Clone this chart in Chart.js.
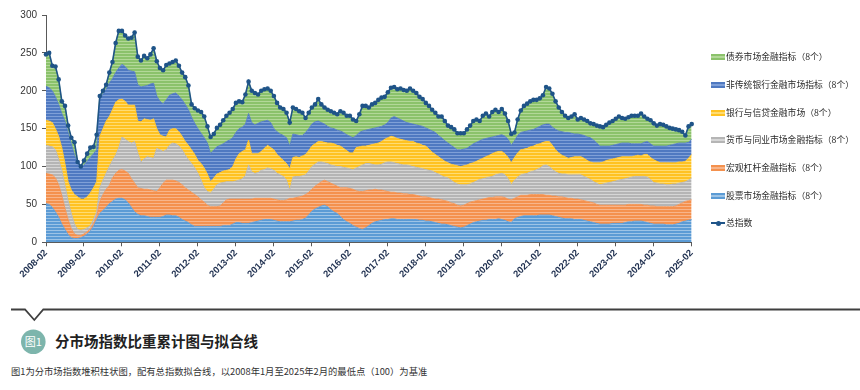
<!DOCTYPE html>
<html>
<head>
<meta charset="utf-8">
<script src="https://cdn.jsdelivr.net/npm/chart.js@4.4.1/dist/chart.umd.min.js"></script>
<style>
  html, body { margin: 0; padding: 0; background: #fff; }
  #wrap { position: relative; width: 860px; height: 390px; overflow: hidden; font-family: "Noto Sans CJK SC", "Noto Sans", sans-serif; }
  #chart { position: absolute; left: 0; top: 0; }
  .lg { position: absolute; left: 711px; height: 12px; width: 150px; }
  .lg .sw { position: absolute; left: 0; top: 3px; width: 14px; height: 6px; }
  .lg .ln { position: absolute; left: 0; top: 5px; width: 14px; height: 2px; background: #1f5488; }
  .lg .dot { position: absolute; left: 4.5px; top: 3.5px; width: 5px; height: 5px; border-radius: 50%; background: #1f5488; }
  .lg span { position: absolute; left: 15px; top: 0; font-size: 8.8px; line-height: 12px; color: #2a2a2a; white-space: nowrap; }
</style>
</head>
<body>
<div id="wrap">
  <canvas id="chart" width="860" height="300"></canvas>
  <div id="legend"></div>
  <svg width="860" height="90" style="position:absolute;left:0;top:300px">
    <polyline points="11,9.5 25,9.5 34.3,20 43.3,9.5 860,9.5" fill="none" stroke="#3f3f3f" stroke-width="1.8"/>
    <circle cx="33.3" cy="41.7" r="12.3" fill="#7db5ac"/>
    <text x="33.3" y="45.6" text-anchor="middle" font-size="11" fill="#fff">图1</text>
    <text x="55" y="47" font-size="14.5" font-weight="bold" fill="#222">分市场指数比重累计图与拟合线</text>
    <text x="11" y="75" font-size="9.3" fill="#333">图1为分市场指数堆积柱状图，配有总指数拟合线，以2008年1月至2025年2月的最低点（100）为基准</text>
  </svg>
</div>
<script>
// 月度数据：2008-02 至 2025-02
const tickLabels = ['2008-02','2009-02','2010-02','2011-02','2012-02','2013-02','2014-02','2015-02','2016-02',
  '2017-02','2018-02','2019-02','2020-02','2021-02','2022-02','2023-02','2024-02','2025-02'];

// 股票市场金融指标
const stock = [51,50,46,40,33,24,17,10,6,5,5,6,
  8,11,15,21,30,38,42,46,51,54,57,58,
  58,56,52,46,40,37,35,35,34,33,33,33,
  33,34,36,36,35,35,33,30,28,26,23,21,
  21,21,21,21,21,21,21,21,22,22,22,24,
  26,26,25,25,25,26,27,28,29,30,30,30,
  29,28,27,27,27,27,28,29,29,30,32,36,
  41,44,46,48,49,47,43,40,38,34,30,27,
  25,22,20,18,17,19,22,25,27,28,29,30,
  30,31,31,30,30,30,30,30,30,30,29,29,
  28,28,27,26,25,24,24,23,22,21,20,19,
  20,22,24,26,27,28,29,29,30,30,30,31,
  30,29,27,26,31,33,34,35,35,35,35,35,
  36,36,36,36,35,34,33,32,31,31,31,30,
  30,30,29,28,27,26,25,24,24,24,24,25,
  25,25,25,26,27,27,28,28,28,27,26,25,
  24,24,24,24,23,23,23,24,25,27,28,29,30];

// 宏观杠杆金融指标
const macro = [40,40,43,45,43,38,28,20,12,6,4,3,
  3,3,3,4,4,16,21,24,24,31,34,37,
  38,38,39,38,38,35,36,35,36,36,35,34,
  39,44,46,46,47,46,46,46,44,43,43,42,
  39,35,32,28,26,26,26,27,30,34,35,33,
  31,31,32,32,32,31,31,30,29,28,28,28,
  28,28,28,28,29,31,30,30,31,31,31,30,
  29,30,31,32,33,33,35,36,36,38,42,45,
  46,48,48,49,50,49,47,44,43,41,40,38,
  37,35,35,35,35,34,34,33,33,32,32,31,
  32,31,31,31,32,32,31,31,30,30,29,29,
  29,29,29,28,28,28,28,29,29,29,30,29,
  30,30,30,30,27,27,28,27,27,28,28,28,
  27,27,26,26,26,27,27,28,28,27,27,27,
  27,26,26,26,26,26,25,25,25,25,25,24,
  24,24,24,23,23,23,22,22,22,22,23,23,
  24,23,23,23,24,24,24,24,25,25,26,26,26];

// 货币与同业市场金融指标
const money = [37,37,37,37,34,33,30,25,20,13,8,7,
  6,5,4,5,6,18,19,21,25,23,24,30,
  43,42,42,47,55,46,35,40,43,43,43,57,
  50,42,40,46,49,49,48,46,43,40,38,35,
  31,26,19,18,18,23,29,30,27,24,23,23,
  24,25,27,31,45,36,33,34,37,38,40,39,
  38,35,34,32,26,11,28,28,27,27,26,28,
  30,29,29,26,23,24,24,25,26,28,27,26,
  26,26,30,33,35,36,35,34,32,33,34,37,
  39,40,39,39,38,38,38,38,37,37,37,37,
  36,36,36,35,33,32,31,31,30,28,28,28,
  27,25,24,25,26,27,27,27,27,28,29,30,
  31,30,27,20,24,26,27,28,29,30,31,33,
  35,38,40,38,35,32,31,30,31,31,31,32,
  32,33,32,31,30,28,28,27,28,29,30,31,
  32,33,34,35,35,36,37,37,37,38,37,35,
  31,31,30,30,29,29,30,29,28,27,26,27,29];

// 银行与信贷金融市场
const bank = [33,33,32,28,30,30,29,25,31,39,43,41,
  40,41,43,42,40,68,68,69,66,67,70,63,
  50,50,48,50,48,42,53,53,49,49,52,26,
  20,20,17,20,19,20,19,18,18,19,18,18,
  17,22,26,23,15,15,14,14,15,15,16,20,
  29,35,36,34,33,24,26,25,25,28,30,28,
  27,25,23,21,22,28,26,26,25,26,27,27,
  27,27,27,27,27,27,29,29,28,27,25,23,
  21,22,27,26,25,23,24,26,28,29,30,31,
  32,34,34,33,33,33,32,32,33,32,32,31,
  31,28,25,24,23,22,21,20,21,23,24,24,
  25,26,27,26,26,26,27,28,29,30,30,30,
  29,28,28,29,30,32,33,33,33,33,33,33,
  32,31,31,33,32,29,27,25,23,22,23,24,
  24,24,24,23,23,25,27,29,29,30,30,30,
  30,30,30,29,28,27,27,28,27,29,30,29,
  30,29,28,28,29,29,28,28,28,27,27,29,31];

// 非传统银行金融市场指标
const nonbank = [45,44,42,42,42,45,56,65,61,52,45,42,
  45,47,47,45,42,48,46,42,44,41,39,42,
  46,46,46,45,44,48,46,43,45,48,47,43,
  44,43,49,46,46,47,47,48,49,47,43,41,
  42,40,40,41,37,37,36,36,36,38,39,38,
  35,33,32,34,35,41,38,40,39,36,33,33,
  28,30,31,33,34,30,31,29,29,27,29,29,
  29,29,27,25,24,22,20,20,20,20,21,21,
  22,20,16,19,20,21,21,21,21,21,20,19,
  20,24,27,27,26,25,24,24,23,24,24,25,
  24,26,28,29,28,28,27,26,25,23,21,22,
  22,22,23,25,25,25,25,24,23,22,21,21,
  22,23,24,23,22,23,23,23,23,22,22,22,
  23,23,23,23,24,27,29,31,32,34,32,30,
  30,29,30,31,32,30,26,22,21,19,18,18,
  18,18,18,18,18,17,16,15,16,16,17,18,
  18,20,22,22,22,23,24,25,25,25,24,21,20];

// 债券市场金融指标
const bond = [42,46,33,40,33,16,20,9,8,17,1,1,
  6,10,13,9,20,5,4,6,14,22,39,49,
  44,41,42,44,52,37,35,40,36,39,46,46,
  44,44,46,42,42,43,40,36,36,32,17,20,
  24,28,28,22,22,21,25,27,31,34,36,38,
  39,36,33,39,42,42,42,38,41,42,42,42,
  43,38,35,35,33,31,35,34,32,30,19,21,
  22,23,29,24,22,22,22,21,21,26,26,25,
  27,24,19,24,33,32,29,32,33,36,38,37,
  40,40,39,38,41,41,42,46,44,42,38,36,
  33,31,28,26,25,28,26,23,24,24,22,22,
  21,25,27,30,30,26,31,33,28,33,35,31,
  34,30,24,15,11,21,29,34,36,38,39,37,
  37,39,49,47,44,37,31,26,22,19,22,26,
  19,22,21,21,19,21,23,26,25,28,31,32,
  34,36,33,32,34,37,37,37,40,34,30,31,
  30,27,29,28,26,23,21,19,17,15,10,21,20];

// 总指数
const totalIndex = [248,250,233,232,215,186,180,154,138,132,106,100,
  108,117,125,126,142,193,200,208,224,238,263,279,
  279,273,269,270,277,245,240,246,243,248,256,239,
  230,227,234,236,238,240,233,224,218,207,182,177,
  174,172,166,153,139,143,151,155,161,167,171,176,
  184,186,185,195,212,200,197,195,200,202,203,200,
  193,184,178,176,171,158,178,176,173,171,164,171,
  178,182,189,182,178,175,173,171,169,173,171,167,
  167,162,160,169,180,180,178,182,184,188,191,192,
  198,204,205,202,203,201,200,203,200,197,192,189,
  184,180,175,171,166,166,160,154,152,149,144,144,
  144,149,154,160,162,160,167,170,166,172,175,172,
  176,170,160,143,145,162,174,180,183,186,188,188,
  190,194,205,203,196,186,178,172,167,164,166,169,
  162,164,162,160,157,156,154,153,152,155,158,160,
  163,166,164,163,165,167,167,167,170,166,163,161,
  157,154,156,155,153,151,150,149,148,146,141,153,156];

// 月份类别
const months = [];
for (let i = 0; i < totalIndex.length; i++) {
  const m = 1 + i;
  months.push(`${2008 + Math.floor(m / 12)}-${String(m % 12 + 1).padStart(2, '0')}`);
}

const canvas = document.getElementById('chart');
const ctx = canvas.getContext('2d');

function stripes(base, light) {
  const c = document.createElement('canvas');
  c.width = 4; c.height = 3;
  const g = c.getContext('2d');
  g.fillStyle = base; g.fillRect(0, 0, 4, 3);
  g.fillStyle = light; g.fillRect(0, 2, 4, 1);
  return ctx.createPattern(c, 'repeat');
}

// 自下而上
const series = [
  { label: '股票市场金融指标（8个）', data: stock, base: '#5b9bd5', light: '#9cc3e6' },
  { label: '宏观杠杆金融指标（8个）', data: macro, base: '#f4914e', light: '#f8b58a' },
  { label: '货币与同业市场金融指标（8个）', data: money, base: '#b5b5b5', light: '#d6d6d6' },
  { label: '银行与信贷金融市场（8个）', data: bank, base: '#ffc222', light: '#ffdc72' },
  { label: '非传统银行金融市场指标（8个）', data: nonbank, base: '#4f79c1', light: '#7fa0d8' },
  { label: '债券市场金融指标（8个）', data: bond, base: '#8bc26b', light: '#b2d898' }
];

const datasets = series.map((s, i) => ({
  label: s.label,
  data: s.data,
  backgroundColor: stripes(s.base, s.light),
  borderColor: s.base,
  borderWidth: 0.8,
  pointRadius: 0,
  tension: 0,
  fill: i === 0 ? 'origin' : '-1',
  stack: 'parts'
}));

datasets.push({
  label: '总指数',
  data: totalIndex,
  borderColor: '#1f5488',
  borderWidth: 1.6,
  pointRadius: 2.3,
  pointBackgroundColor: '#1f5488',
  pointBorderWidth: 0,
  tension: 0,
  fill: false,
  stack: 'total',
  order: -1,
  clip: false
});

const axisColor = '#595959';
const isTick = i => tickLabels.includes(months[i]);

new Chart(ctx, {
  type: 'line',
  data: { labels: months, datasets },
  options: {
    responsive: false,
    animation: false,
    layout: { padding: { left: 0, top: 15, right: 168.3, bottom: 0 } },
    plugins: { legend: { display: false }, tooltip: { enabled: false } },
    scales: {
      x: {
        stacked: true,
        offset: false,
        border: { display: true, color: axisColor, width: 1 },
        grid: {
          drawOnChartArea: false,
          tickLength: 4,
          tickColor: c => isTick(c.index) ? axisColor : 'rgba(0,0,0,0)'
        },
        ticks: {
          autoSkip: false,
          minRotation: 45,
          maxRotation: 45,
          padding: 1,
          color: '#1f3050',
          font: { family: 'Liberation Sans, Arial, sans-serif', size: 9.5, weight: 'bold' },
          callback: (v, i) => isTick(i) ? months[i] : ''
        },
        afterFit: s => { s.height = 57.7; }
      },
      y: {
        stacked: true,
        min: 0,
        max: 300,
        border: { display: true, color: axisColor, width: 1 },
        grid: { drawOnChartArea: false, tickLength: 4, tickColor: axisColor },
        ticks: {
          stepSize: 50,
          padding: 5,
          color: '#333',
          font: { family: 'Liberation Sans, Arial, sans-serif', size: 10 }
        },
        afterFit: s => { s.width = 46; }
      }
    }
  }
});

// 图例
const legendRows = [
  { text: '债券市场金融指标（8个）', base: '#8bc26b', light: '#b2d898' },
  { text: '非传统银行金融市场指标（8个）', base: '#4f79c1', light: '#7fa0d8' },
  { text: '银行与信贷金融市场（8个）', base: '#ffc222', light: '#ffdc72' },
  { text: '货币与同业市场金融指标（8个）', base: '#b5b5b5', light: '#d6d6d6' },
  { text: '宏观杠杆金融指标（8个）', base: '#f4914e', light: '#f8b58a' },
  { text: '股票市场金融指标（8个）', base: '#5b9bd5', light: '#9cc3e6' },
  { text: '总指数', line: true }
];
const legendTop = 57.3, legendGap = 27.67;
const lg = document.getElementById('legend');
legendRows.forEach((r, i) => {
  const row = document.createElement('div');
  row.className = 'lg';
  row.style.top = (legendTop + i * legendGap - 6) + 'px';
  if (r.line) {
    row.innerHTML = '<div class="ln"></div><div class="dot"></div>';
  } else {
    row.innerHTML = `<div class="sw" style="background:linear-gradient(${r.base} 0 33%, ${r.light} 33% 66%, ${r.base} 66%)"></div>`;
  }
  const t = document.createElement('span');
  t.textContent = r.text;
  row.appendChild(t);
  lg.appendChild(row);
});
</script>
</body>
</html>
